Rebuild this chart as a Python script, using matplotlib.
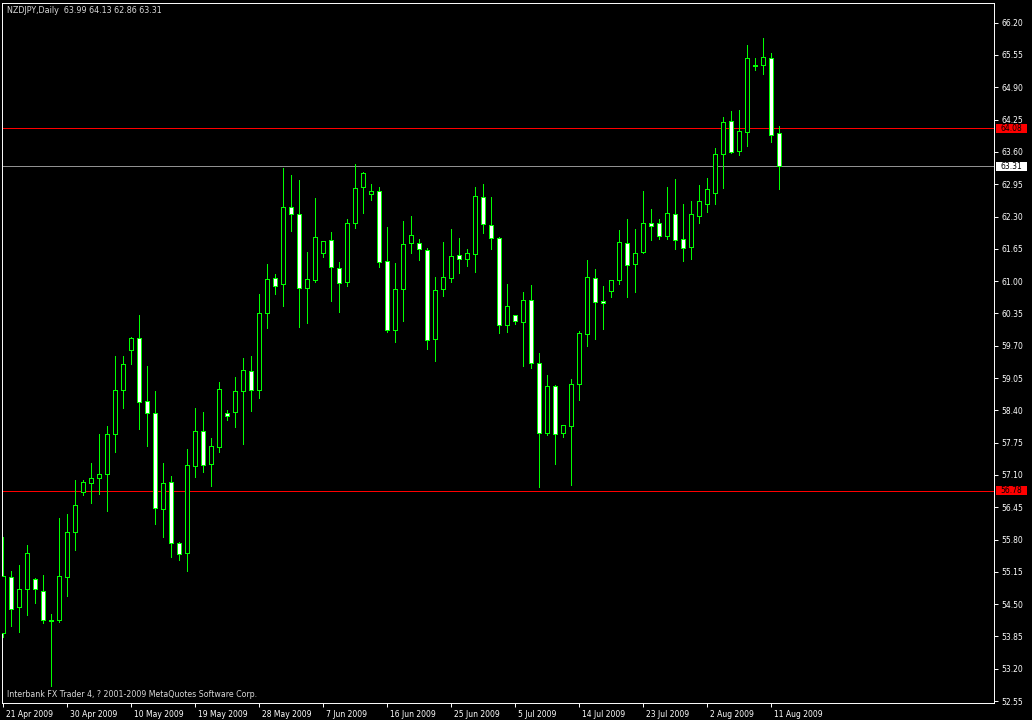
import matplotlib
matplotlib.use('Agg')
import matplotlib.pyplot as plt
from matplotlib.patches import Rectangle
from matplotlib.transforms import ScaledTranslation, IdentityTransform
import numpy as np

# NZDJPY daily bars, 21 Apr 2009 .. 12 Aug 2009 (Sunday bars included)
opens = np.array([
    53.93, 55.04, 54.44, 54.80, 55.00, 54.76, 54.17, 54.19, 55.05, 55.95,
    56.76, 56.94, 57.03, 57.11, 57.92, 58.80, 59.61, 59.85, 58.58, 58.34,
    56.41, 56.95, 55.74, 55.52, 57.29, 57.98, 57.33, 57.66, 58.34, 58.36,
    58.78, 59.20, 58.80, 60.35, 61.06, 60.94, 62.49, 62.36, 60.87, 61.02,
    61.57, 61.82, 61.26, 60.98, 62.16, 62.89, 62.75, 62.81, 61.40, 60.01,
    60.84, 61.76, 61.76, 61.62, 59.83, 60.84, 61.06, 61.52, 61.44, 61.54,
    62.69, 62.12, 61.86, 60.11, 60.31, 60.18, 60.63, 59.35, 57.95, 58.90,
    57.95, 58.09, 58.94, 59.93, 61.06, 60.61, 60.80, 61.02, 61.76, 61.34,
    61.58, 62.16, 62.16, 61.90, 62.35, 61.84, 61.68, 62.32, 62.55, 62.77,
    63.55, 64.22, 63.61, 64.01, 65.34, 65.34, 65.48, 63.99])
highs = np.array([
    55.86, 55.17, 55.29, 55.69, 55.02, 55.09, 54.30, 56.23, 56.31, 57.00,
    57.00, 57.34, 57.92, 58.09, 59.49, 59.49, 59.87, 60.32, 59.29, 58.79,
    57.34, 57.08, 55.76, 57.62, 58.45, 58.37, 57.84, 58.97, 58.40, 59.07,
    59.45, 59.49, 60.75, 61.34, 61.14, 63.28, 63.14, 63.03, 61.58, 62.67,
    61.81, 61.99, 61.38, 62.26, 63.36, 63.19, 62.96, 62.90, 62.09, 61.37,
    62.21, 62.31, 61.84, 61.66, 61.08, 61.78, 62.04, 61.87, 61.64, 62.89,
    62.95, 62.69, 61.88, 60.94, 60.32, 60.78, 60.92, 59.55, 59.11, 58.91,
    58.11, 59.04, 59.99, 61.43, 61.24, 60.90, 61.03, 62.03, 62.25, 62.05,
    62.81, 62.45, 62.25, 62.90, 63.06, 62.55, 62.61, 62.94, 63.08, 63.68,
    64.30, 64.42, 64.44, 65.75, 65.49, 65.89, 65.58, 64.13])
lows = np.array([
    53.83, 54.06, 53.95, 54.28, 54.53, 54.13, 52.86, 54.15, 54.67, 55.60,
    56.70, 56.54, 56.72, 56.38, 57.57, 58.45, 59.33, 58.03, 57.69, 56.12,
    55.86, 55.44, 55.38, 55.17, 57.05, 57.15, 56.88, 57.57, 58.21, 58.07,
    57.73, 58.39, 58.64, 60.06, 60.75, 60.49, 62.01, 60.08, 60.16, 60.99,
    61.49, 60.61, 60.37, 60.91, 62.06, 62.38, 62.64, 61.29, 59.98, 59.78,
    60.20, 61.57, 61.43, 59.64, 59.40, 60.71, 60.99, 61.17, 61.31, 61.19,
    61.97, 61.65, 59.96, 59.98, 60.14, 59.30, 59.26, 56.85, 57.91, 57.33,
    57.87, 56.89, 58.61, 59.70, 59.84, 60.04, 60.69, 60.95, 60.69, 60.79,
    61.56, 61.82, 61.84, 61.84, 61.64, 61.40, 61.45, 62.16, 62.39, 62.55,
    62.88, 63.57, 63.54, 63.71, 65.25, 65.17, 63.79, 62.86])
closes = np.array([
    55.07, 54.41, 54.80, 55.54, 54.80, 54.19, 54.19, 55.06, 55.95, 56.49,
    56.95, 57.03, 57.11, 57.92, 58.80, 59.33, 59.85, 58.56, 58.34, 56.43,
    56.93, 55.74, 55.50, 57.31, 57.98, 57.31, 57.68, 58.82, 58.28, 58.78,
    59.22, 58.80, 60.35, 61.04, 60.90, 62.49, 62.36, 60.87, 61.04, 61.88,
    61.80, 61.28, 60.96, 62.16, 62.87, 63.17, 62.81, 61.38, 60.01, 60.84,
    61.74, 61.92, 61.64, 59.81, 60.82, 61.08, 61.50, 61.44, 61.56, 62.71,
    62.14, 61.86, 60.11, 60.49, 60.20, 60.63, 59.35, 57.95, 58.88, 57.93,
    58.10, 58.94, 59.95, 61.08, 60.59, 60.57, 61.02, 61.78, 61.32, 61.56,
    62.16, 62.10, 61.90, 62.37, 61.82, 61.66, 62.35, 62.61, 62.85, 63.55,
    64.20, 63.59, 64.03, 65.48, 65.33, 65.50, 63.95, 63.31])

date_ticks = [0, 8, 16, 24, 32, 40, 48, 56, 64, 72, 80, 88, 96]
date_labels = ['21 Apr 2009', '30 Apr 2009', '10 May 2009', '19 May 2009',
               '28 May 2009', '7 Jun 2009', '16 Jun 2009', '25 Jun 2009',
               '5 Jul 2009', '14 Jul 2009', '23 Jul 2009', '2 Aug 2009',
               '11 Aug 2009']
price_ticks = np.round(np.arange(52.55, 66.21, 0.65), 2)

bid = 63.31
line_upper = 64.08
line_lower = 56.78

W, H = 1032, 720
GREEN = '#00FF00'
LW = 0.7  # one pixel at 100 dpi
fig = plt.figure(figsize=(W / 100, H / 100), dpi=100, facecolor='black')
ax = fig.add_axes([2 / W, (H - 702.7) / H, (994.3 - 2) / W, (702.7 - 2.5) / H])
ax.set_facecolor('black')

x = np.arange(len(opens))
bull = closes >= opens
ax.vlines(x, lows, highs, color=GREEN, lw=LW, snap=True, antialiased=False, zorder=2)
body_lo = np.minimum(opens, closes)
body_h = np.maximum(np.abs(closes - opens), 0.005)
ax.bar(x, body_h, bottom=body_lo, width=0.5,
       color=np.where(bull, 'black', 'white'), edgecolor=GREEN,
       linewidth=LW, snap=True, antialiased=False, zorder=3)

for level, col in [(line_upper, '#FF0000'), (bid, '#909090'), (line_lower, '#FF0000')]:
    ax.axhline(level, color=col, lw=LW, snap=True, antialiased=False, zorder=1)

ax.set_xlim(-0.1625, 123.875)
ax.set_ylim(52.518, 66.606)

for s in ax.spines.values():
    s.set_color('white')
    s.set_linewidth(LW)

ax.yaxis.tick_right()
ax.set_yticks(price_ticks)
ax.set_yticklabels(['%.2f' % p for p in price_ticks])
ax.tick_params(axis='y', colors='white', length=3, width=LW, pad=2,
               labelsize=5.5, direction='out')
ax.set_xticks(date_ticks)
ax.set_xticklabels(date_labels, ha='left')
ax.tick_params(axis='x', colors='white', length=3, width=LW, pad=2,
               labelsize=5.5, direction='out')
shift = ScaledTranslation(3 / 100, 0, fig.dpi_scale_trans)
for lab in ax.get_xticklabels():
    lab.set_transform(lab.get_transform() + shift)

ax.text(0.0053, 0.988, 'NZDJPY,Daily  %.2f %.2f %.2f %.2f'
        % (opens[-1], highs[-1], lows[-1], closes[-1]),
        transform=ax.transAxes, color='#D8D8D8', fontsize=5.8,
        ha='left', va='center')
ax.text(0.0047, 0.011,
        'Interbank FX Trader 4, ? 2001-2009 MetaQuotes Software Corp.',
        transform=ax.transAxes, color='#D8D8D8', fontsize=5.7,
        ha='left', va='center')

# price boxes on the right scale
for price, bg in [(line_upper, '#FF0000'), (bid, 'white'), (line_lower, '#FF0000')]:
    yp = ax.transData.transform((0, price))[1]
    fig.add_artist(Rectangle((996, yp - 4.5), 31, 9, transform=IdentityTransform(),
                             facecolor=bg, edgecolor='none', zorder=4))
    fig.text(1000.5 / W, yp / H, '%.2f' % price, color='black', fontsize=5.5,
             ha='left', va='center', zorder=5)

fig.savefig('out.png', dpi=100, facecolor='black')
